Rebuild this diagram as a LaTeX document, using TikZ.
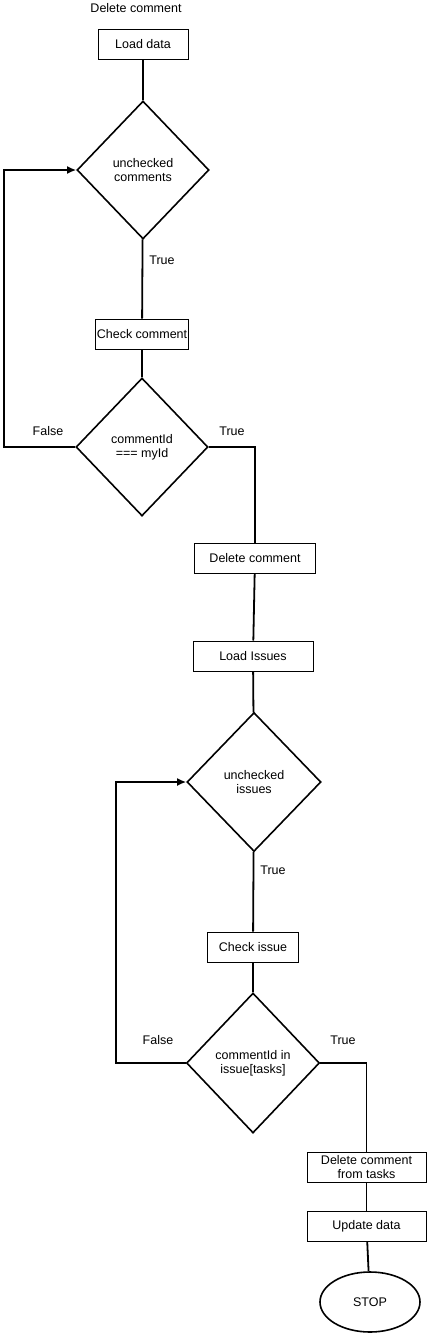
\documentclass[tikz,border=0pt]{standalone}
\usepackage{fontspec}
\setmainfont{Liberation Sans}
\usetikzlibrary{shapes.geometric,arrows.meta}
\tikzstyle{every node}=[font=\fontsize{12.5}{14}\selectfont,align=center]
\tikzstyle{stepbox}=[draw=black,line width=1pt,minimum height=30pt,inner sep=1pt]
\tikzstyle{decision}=[draw=black,diamond,line width=1.6pt,minimum width=132pt,minimum height=138pt,inner sep=0pt]
\tikzstyle{terminal}=[draw=black,ellipse,line width=1.6pt,minimum width=100pt,minimum height=60pt]
\tikzstyle{link}=[draw=black,line width=1.8pt]
\tikzstyle{loop}=[link,-{Latex[length=9pt,width=8pt]}]

\begin{document}
\begin{tikzpicture}[x=1pt,y=-1pt]
          \useasboundingbox (0,0) rectangle (427,1334);
          \node (title) at (136,8) {Delete comment};
          \node[stepbox,minimum width=90pt] (load) at (143,44) {Load data};
          \node[decision] (unchecked) at (143,170) {unchecked\\comments};
          \node[stepbox,minimum width=90pt] (check) at (142,334) {Check comment};
          \node[decision] (match) at (142,447) {commentId\\=== myId};
          \node[stepbox,minimum width=121pt] (delete) at (255,558) {Delete comment};
          \node[stepbox,minimum width=120pt] (loadissues) at (253,656) {Load Issues};
          \node[decision,minimum width=134pt,minimum height=139pt] (uncheckedissues) at (254,782) {unchecked\\issues};
          \node[stepbox,minimum width=91pt] (checkissue) at (253,947) {Check issue};
          \node[decision,minimum width=133pt,minimum height=140pt] (inissue) at (253,1063) {commentId in\\issue[tasks]};
          \node[stepbox,minimum width=119pt,inner sep=0pt] (deletetask) at (366.5,1167) {Delete comment\\from tasks};
          \node[stepbox,minimum width=119pt] (update) at (366.5,1226) {Update data};
          \node[terminal] (stop) at (370,1302) {STOP};
          % labels
          \node (true1) at (162,260) {True};
          \node (false1) at (48,431) {False};
          \node (true2) at (232,431) {True};
          \node (true3) at (273,870) {True};
          \node (false2) at (158,1040) {False};
          \node (true4) at (343,1040) {True};
          % connectors
          \draw[link] (load) -- (unchecked);
          \draw[link] (unchecked) -- (check);
          \draw[link] (check) -- (match);
          \draw[loop] (match.west) -- ++(-71,0) |- (unchecked.west);
          \draw[link] (match.east) -| (delete.north);
          \draw[link] (delete) -- (loadissues);
          \draw[link] (loadissues) -- (uncheckedissues);
          \draw[link] (uncheckedissues) -- (checkissue);
          \draw[link] (checkissue) -- (inissue);
          \draw[loop] (inissue.west) -- ++(-70,0) |- (uncheckedissues.west);
          \draw[link] (inissue.east) -| (deletetask.north);
          \draw[link] (deletetask) -- (update);
          \draw[link] (update) -- (stop);
        \end{tikzpicture}
\end{document}
